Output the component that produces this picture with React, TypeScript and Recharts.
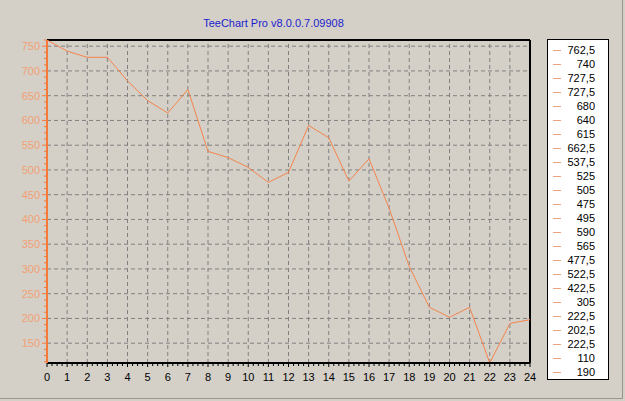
import React from 'react';
import { LineChart, Line, XAxis, YAxis, ReferenceLine } from 'recharts';

const xValues = [0, 1, 2, 3, 4, 5, 6, 7, 8, 9, 10, 11, 12, 13, 14, 15, 16, 17, 18, 19, 20, 21, 22, 23, 24];
const yValues = [762.5, 740, 727.5, 727.5, 680, 640, 615, 662.5, 537.5, 525, 505, 475, 495, 590, 565, 477.5, 522.5, 422.5, 305, 222.5, 202.5, 222.5, 110, 190, 197.5];
const xMajorTicks = [0, 1, 2, 3, 4, 5, 6, 7, 8, 9, 10, 11, 12, 13, 14, 15, 16, 17, 18, 19, 20, 21, 22, 23, 24];
const yMajorTicks = [150, 200, 250, 300, 350, 400, 450, 500, 550, 600, 650, 700, 750];
const xDomain = [0, 24];
const yDomain = [110, 762.5];
const legendCount = 24;
const title = 'TeeChart Pro v8.0.0.7.09908';

const data = xValues.map((x, i) => ({ x, y: yValues[i] }));

// minor ticks: 3 between majors
const xAllTicks: number[] = [];
for (let i = 0; i < xMajorTicks.length; i++) {
  xAllTicks.push(xMajorTicks[i]);
  if (i < xMajorTicks.length - 1) {
    const step = (xMajorTicks[i + 1] - xMajorTicks[i]) / 4;
    for (let k = 1; k < 4; k++) xAllTicks.push(xMajorTicks[i] + step * k);
  }
}
const yAllTicks: number[] = [];
for (let v = yDomain[0]; v <= yDomain[1] + 0.001; v += 0.5) {
  if (Math.abs((v / 12.5) - Math.round(v / 12.5)) < 1e-6 && v >= yDomain[0]) yAllTicks.push(v);
}

const FONT = 'Arial, "Liberation Sans", sans-serif';
const ORANGE_AXIS = '#F47A3C';
const ORANGE_LINE = '#F5844C';
const ORANGE_LABEL = '#F2A074';
const BG = '#D4D0C8';

const XTick = (props: any) => {
  const { x, y, payload } = props;
  const v = payload.value;
  const major = Math.abs(v - Math.round(v)) < 1e-6;
  return (
    <g>
      <line x1={x} x2={x} y1={y} y2={y + (major ? 4 : 3)} stroke="#000" strokeWidth={1} />
      {major && (
        <text x={x} y={y + 18} textAnchor="middle" fontFamily={FONT} fontSize={11} fill="#000">
          {Math.round(v)}
        </text>
      )}
    </g>
  );
};

const YTick = (props: any) => {
  const { x, y, payload } = props;
  const v = payload.value;
  const major = Math.abs(v / 50 - Math.round(v / 50)) < 1e-6;
  return (
    <g>
      <line x1={x} x2={x - (major ? 5 : 3)} y1={y} y2={y} stroke={ORANGE_AXIS} strokeWidth={1} />
      {major && (
        <text x={x - 7} y={y + 4} textAnchor="end" fontFamily={FONT} fontSize={11} fill={ORANGE_LABEL}>
          {v}
        </text>
      )}
    </g>
  );
};

const LegendBox = () => (
  <div
    style={{
      position: 'absolute',
      left: 547,
      top: 39,
      boxSizing: 'border-box',
      width: 62,
      height: 341,
      border: '1px solid #000',
      background: '#fff',
      paddingTop: 3,
      fontFamily: FONT,
      fontSize: 11,
      color: '#000',
    }}
  >
    {yValues.slice(0, legendCount).map((v, i) => (
      <div key={i} style={{ display: 'flex', alignItems: 'center', height: 14, lineHeight: '14px' }}>
        <div style={{ width: 8, height: 1, background: '#E8A27C', marginLeft: 5 }} />
        <div style={{ flex: 1, textAlign: 'right', paddingRight: 13 }}>
          {String(v).replace('.', ',')}
        </div>
      </div>
    ))}
  </div>
);

export default function App() {
  return (
    <div
      style={{
        position: 'absolute',
        left: 0,
        top: 0,
        width: 625,
        height: 401,
        background: BG,
        overflow: 'hidden',
      }}
    >
      <div
        style={{
          position: 'absolute',
          left: 0,
          top: 0,
          width: 622,
          height: 398,
          borderRight: '1px solid #9A968E',
          borderBottom: '1px solid #9A968E',
        }}
      />
      <div
        style={{
          position: 'absolute',
          left: 0,
          top: 17,
          width: 547,
          textAlign: 'center',
          fontFamily: FONT,
          fontSize: 11,
          color: '#1C1CCC',
        }}
      >
        {title}
      </div>
      <div style={{ position: 'absolute', left: 0, top: 0 }}>
        <LineChart width={625} height={401} data={data} margin={{ top: 40, right: 95, bottom: 8, left: 0 }}>
          <XAxis
            dataKey="x"
            type="number"
            domain={xDomain}
            ticks={xAllTicks}
            interval={0}
            tickSize={0}
            tickMargin={0}
            tickLine={false}
            axisLine={{ stroke: '#000', strokeWidth: 2 }}
            height={30}
            tick={<XTick />}
            allowDataOverflow
          />
          <YAxis
            type="number"
            domain={yDomain}
            ticks={yAllTicks}
            interval={0}
            tickSize={0}
            tickMargin={0}
            tickLine={false}
            axisLine={{ stroke: ORANGE_AXIS, strokeWidth: 2 }}
            width={47}
            tick={<YTick />}
            allowDataOverflow
          />
          {xMajorTicks.slice(1, -1).map((v) => (
            <ReferenceLine key={'vx' + v} x={v} stroke="#808080" strokeDasharray="4 3" strokeWidth={1} />
          ))}
          {yMajorTicks.map((v) => (
            <ReferenceLine key={'hy' + v} y={v} stroke="#808080" strokeDasharray="4 3" strokeWidth={1} />
          ))}
          <ReferenceLine y={yDomain[1]} stroke="#000" strokeWidth={2} />
          <ReferenceLine x={xDomain[1]} stroke="#000" strokeWidth={2} />
          <Line
            type="linear"
            dataKey="y"
            stroke={ORANGE_LINE}
            strokeWidth={1}
            dot={false}
            activeDot={false}
            isAnimationActive={false}
          />
        </LineChart>
      </div>
      <LegendBox />
    </div>
  );
}
